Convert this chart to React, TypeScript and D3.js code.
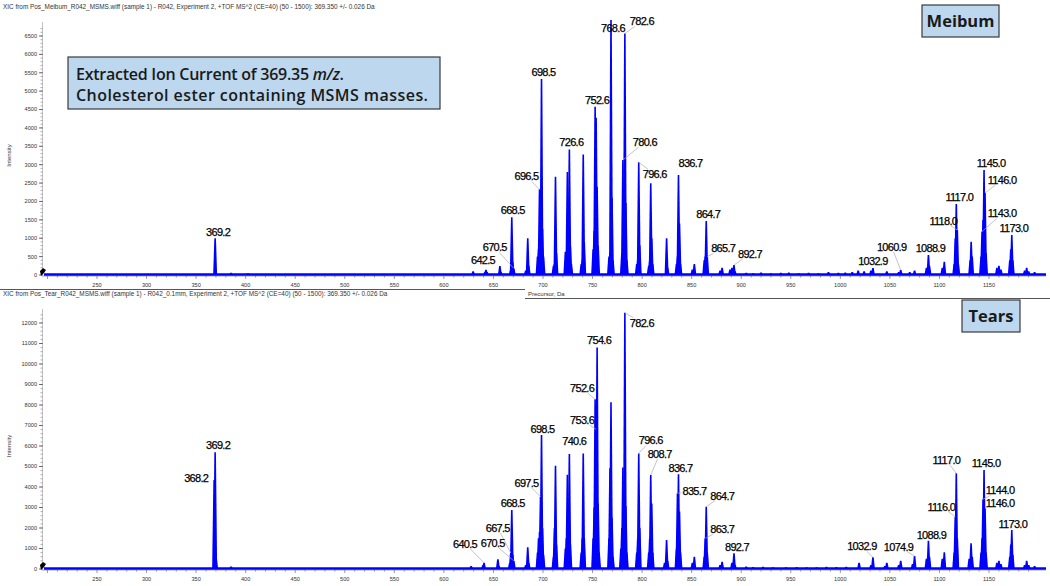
import React, { useRef, useEffect } from 'react';
import * as d3 from 'd3';

type Peak = [number, number];

// x axis (Precursor, Da)
const xTicks = [250, 300, 350, 400, 450, 500, 550, 600, 650, 700, 750, 800, 850, 900, 950, 1000, 1050, 1100, 1150];
const meibumYTicks = [0, 500, 1000, 1500, 2000, 2500, 3000, 3500, 4000, 4500, 5000, 5500, 6000, 6500];
const tearsYTicks = [0, 1000, 2000, 3000, 4000, 5000, 6000, 7000, 8000, 9000, 10000, 11000, 12000];

const meibumTitle = 'XIC from Pos_Meibum_R042_MSMS.wiff (sample 1) - R042, Experiment 2, +TOF MS^2 (CE=40) (50 - 1500): 369.350 +/- 0.026 Da';
const tearsTitle = 'XIC from Pos_Tear_R042_MSMS.wiff (sample 1) - R042_0.1mm, Experiment 2, +TOF MS^2 (CE=40) (50 - 1500): 369.350 +/- 0.026 Da';

// [m/z, intensity]
const meibumPeaks: Peak[] = [
  [369.2, 1000], [385.3, 60], [402.3, 50], [629.5, 100],
  [641.5, 90], [642.5, 140], [643.5, 80], [656.5, 245], [657.5, 80],
  [667.5, 150], [668.5, 1570], [669.5, 350], [670.5, 180], [682.6, 120], [684.6, 1000], [685.6, 250],
  [694.5, 500], [695.5, 700], [696.5, 2330], [697.5, 900], [698.5, 5330], [699.5, 1250], [700.5, 500],
  [710.6, 250], [711.6, 300], [712.6, 2670], [713.6, 600],
  [722.6, 630], [723.6, 350], [724.6, 2800], [725.6, 1200], [726.6, 3415], [727.6, 800], [728.6, 300],
  [738.6, 300], [739.6, 400], [740.6, 3280], [741.6, 900],
  [750.6, 700], [751.6, 1200], [752.6, 4575], [753.6, 4280], [754.6, 2400], [755.6, 800],
  [766.6, 500], [767.6, 600], [768.6, 6935], [769.6, 2100], [770.6, 400],
  [779.6, 600], [780.6, 3125], [781.6, 2000], [782.6, 6570], [783.6, 1960], [784.6, 400],
  [794.6, 300], [795.6, 400], [796.6, 3065], [797.6, 800],
  [806.7, 250], [807.7, 400], [808.7, 2494], [809.7, 1000], [810.7, 300],
  [824.7, 997], [825.7, 200],
  [834.7, 300], [835.7, 500], [836.7, 2720], [837.7, 1400], [838.7, 300],
  [850.7, 150], [852.7, 300],
  [862.7, 400], [863.7, 500], [864.7, 1468], [865.7, 500],
  [878.7, 120], [880.7, 200], [888.7, 150], [890.7, 200], [892.7, 270], [893.7, 100],
  [905, 60], [912, 50], [920, 70], [930, 50], [940, 60], [948, 70], [958, 50], [968, 60], [978, 50],
  [988, 80], [998, 60], [1005, 70], [1012, 80], [1018, 120], [1024, 100],
  [1030.9, 120], [1032.9, 190], [1046.9, 100], [1058.9, 80], [1060.9, 136], [1070, 80], [1074.9, 120],
  [1086.9, 200], [1088.9, 544], [1089.9, 250], [1102.9, 200], [1104.9, 360],
  [1114.9, 300], [1116.0, 1000], [1117.0, 1930], [1118.0, 1224], [1119.0, 300],
  [1131, 400], [1132, 906], [1133, 500],
  [1142, 500], [1143.0, 1180], [1144, 1500], [1145.0, 2855], [1146.0, 2230], [1147, 600],
  [1158, 200], [1160, 250], [1162, 150],
  [1171, 400], [1172, 700], [1173.0, 1088], [1174, 400],
  [1186, 120], [1188, 200], [1190, 100], [1196, 80],
];

const tearsPeaks: Peak[] = [
  [368.2, 4340], [369.2, 5700], [370.2, 500], [385.3, 120],
  [627.5, 146], [639.5, 200], [640.5, 307], [654.5, 470], [655.5, 150],
  [666.5, 300], [667.5, 780], [668.5, 2878], [669.5, 700], [670.5, 400],
  [682.6, 200], [684.6, 1058], [685.6, 300],
  [694.5, 800], [695.5, 1500], [696.5, 1800], [697.5, 3527], [698.5, 6537], [699.5, 2000], [700.5, 700],
  [710.6, 600], [711.6, 2000], [712.6, 5040], [713.6, 1200],
  [722.6, 1000], [723.6, 1500], [724.6, 4600], [725.6, 2000], [726.6, 5610], [727.6, 1200],
  [738.6, 800], [739.6, 1500], [740.6, 5640], [741.6, 1500],
  [750.6, 1500], [751.6, 3000], [752.6, 8276], [753.6, 6813], [754.6, 10800], [755.6, 3200], [756.6, 800],
  [766.6, 1500], [767.6, 4910], [768.6, 8130], [769.6, 2500], [770.6, 600],
  [778.6, 1000], [779.6, 2000], [780.6, 4950], [781.6, 2500], [782.6, 12500], [783.6, 3060], [784.6, 800],
  [794.6, 800], [795.6, 1500], [796.6, 5640], [797.6, 2000],
  [806.7, 800], [807.7, 1500], [808.7, 4585], [809.7, 3200], [810.7, 800],
  [822.7, 300], [824.7, 1415], [825.7, 400],
  [834.7, 1000], [835.7, 3690], [836.7, 4618], [837.7, 2800], [838.7, 800],
  [850.7, 300], [852.7, 600],
  [862.7, 600], [863.7, 1496], [864.7, 3040], [865.7, 800],
  [878.7, 200], [880.7, 350], [890.7, 300], [892.7, 765], [893.7, 200],
  [905, 120], [912, 100], [922, 110], [932, 80], [945, 90], [956, 100], [966, 80], [976, 90], [986, 110],
  [996, 100], [1006, 110],
  [1018.9, 307], [1030.9, 200], [1032.9, 570], [1044.9, 150], [1046.9, 307], [1058.9, 200], [1060.9, 405],
  [1072.9, 250], [1074.9, 634],
  [1086.9, 500], [1088.9, 1382], [1089.9, 600], [1102.9, 500], [1104.9, 815],
  [1114.9, 800], [1116.0, 2553], [1117.0, 4668], [1118.0, 1500],
  [1130, 500], [1131.9, 1253], [1133, 600],
  [1142, 800], [1143, 1500], [1144.0, 3400], [1145.0, 4830], [1146.0, 2960], [1147, 800],
  [1158, 300], [1160, 400], [1162, 250],
  [1171, 600], [1172, 1200], [1173.0, 1900], [1174, 700],
  [1186, 200], [1188, 400], [1190, 200], [1196, 150],
];

// labelled peaks (m/z)
const meibumLabels = [369.2, 642.5, 668.5, 670.5, 696.5, 698.5, 726.6, 752.6, 768.6, 782.6, 780.6, 796.6,
  836.7, 864.7, 865.7, 892.7, 1032.9, 1060.9, 1088.9, 1117.0, 1118.0, 1145.0, 1146.0, 1143.0, 1173.0];
const tearsLabels = [369.2, 368.2, 640.5, 667.5, 670.5, 668.5, 697.5, 698.5, 740.6, 752.6, 753.6, 754.6,
  782.6, 796.6, 808.7, 836.7, 835.7, 864.7, 863.7, 892.7, 1032.9, 1074.9, 1088.9, 1117.0, 1116.0,
  1145.0, 1144.0, 1146.0, 1173.0];

// label placement relative to the peak tip: [dx, dy, leader line]
const meibumLayout: Record<string, [number, number, boolean]> = {
  '369.2': [3, -6, false], '642.5': [-3, -10, false], '668.5': [1, -7, false], '670.5': [-19, -21, true],
  '696.5': [-13, -13, true], '698.5': [2, -7, false], '726.6': [2, -7, false], '752.6': [2, -7, false],
  '768.6': [2, 8, false], '782.6': [17, -12, true], '780.6': [22, -18, true], '796.6': [16, 12, true],
  '836.7': [12, -12, false], '864.7': [2, -7, false], '865.7': [16, -8, true], '892.7': [16, -11, true],
  '1032.9': [0, -7, false], '1060.9': [-9, -23, true], '1088.9': [2, -7, false], '1117.0': [3, -7, false],
  '1118.0': [-14, -9, true], '1145.0': [7, -7, false], '1146.0': [17, -13, true], '1143.0': [20, -18, true],
  '1173.0': [2, -7, false],
};
const tearsLayout: Record<string, [number, number, boolean]> = {
  '369.2': [3, -7, false], '368.2': [-18, -2, false], '640.5': [-19, -19, true], '667.5': [-13, -25, true],
  '670.5': [-21, -18, true], '668.5': [1, -7, false], '697.5': [-14, -14, true], '698.5': [1, -6, false],
  '740.6': [-9, -12, false], '752.6': [-13, -11, true], '753.6': [-14, -9, true], '754.6': [2, -7, false],
  '782.6': [17, 10, true], '796.6': [12, -13, true], '808.7': [9, -21, true], '836.7': [2, -6, false],
  '835.7': [17, -2, true], '864.7': [16, -11, true], '863.7': [17, -9, true], '892.7': [3, -6, false],
  '1032.9': [-11, -11, true], '1074.9': [-16, -9, true], '1088.9': [3, -6, false], '1117.0': [-10, -13, true],
  '1116.0': [-14, -10, true], '1145.0': [2, -7, false], '1144.0': [17, -9, true], '1146.0': [15, -5, true],
  '1173.0': [1, -6, false],
};

interface PanelSpec {
  peaks: Peak[];
  labels: number[];
  layout: Record<string, [number, number, boolean]>;
  yTicks: number[];
  yMinor: number;
  yMax: number;
  yTop: number;
  yBase: number;
  title: string;
  titleY: number;
  xTitle: boolean;
  tag: string;
  tagBox: [number, number, number, number];
}

const App: React.FC = () => {
  const svgRef = useRef<SVGSVGElement | null>(null);

  useEffect(() => {
    const width = 1050;
    const height = 586;
    const svg = d3.select(svgRef.current);
    svg.selectAll('*').remove();
    svg.attr('width', width).attr('height', height);

    svg.append('rect').attr('width', width).attr('height', height).attr('fill', '#fff');

    const axisX = 42;
    const x = d3.scaleLinear().domain([250, 1150]).range([97, 989]);
    const xMin = x.invert(axisX + 2);
    const xMax = x.invert(1046);
    const blue = '#0000ff';
    const fontSmall = 'Liberation Sans, Arial, sans-serif';
    const fontBox = 'Open Sans, Noto Sans, sans-serif';

    const panels: PanelSpec[] = [
      {
        peaks: meibumPeaks, labels: meibumLabels, layout: meibumLayout, yTicks: meibumYTicks, yMinor: 100,
        yMax: 6500, yTop: 36, yBase: 275, title: meibumTitle, titleY: 9, xTitle: true,
        tag: 'Meibum', tagBox: [922, 5, 77, 32],
      },
      {
        peaks: tearsPeaks, labels: tearsLabels, layout: tearsLayout, yTicks: tearsYTicks, yMinor: 200,
        yMax: 12000, yTop: 323, yBase: 569, title: tearsTitle, titleY: 296, xTitle: false,
        tag: 'Tears', tagBox: [962, 300, 58, 32],
      },
    ];

    // separator between the two traces (the screenshots overlap with a step)
    svg.append('path')
      .attr('d', 'M0,289.5 H525 M525,298.5 H1050')
      .style('stroke', '#555')
      .style('stroke-width', 1.2)
      .style('fill', 'none');

    panels.forEach(p => {
      const y = d3.scaleLinear().domain([0, p.yMax]).range([p.yBase, p.yTop]);
      const g = svg.append('g');

      // title
      g.append('text')
        .attr('x', 3).attr('y', p.titleY)
        .style('font-family', fontSmall)
        .style('font-size', '6.4px')
        .style('fill', '#333')
        .text(p.title);

      // y axis
      g.append('line')
        .attr('x1', axisX + 0.5).attr('x2', axisX + 0.5)
        .attr('y1', p.yTop - 14).attr('y2', p.yBase)
        .style('stroke', '#999')
        .style('stroke-width', 0.6);
      d3.range(0, p.yMax + p.yMinor * 3, p.yMinor).forEach(v => {
        g.append('line')
          .attr('x1', axisX - 1.5).attr('x2', axisX + 0.5)
          .attr('y1', y(v)).attr('y2', y(v))
          .style('stroke', '#777')
          .style('stroke-width', 0.6);
      });
      p.yTicks.forEach(v => {
        g.append('line')
          .attr('x1', axisX - 3).attr('x2', axisX + 0.5)
          .attr('y1', y(v)).attr('y2', y(v))
          .style('stroke', '#333')
          .style('stroke-width', 0.7);
        g.append('text')
          .attr('x', axisX - 5).attr('y', y(v))
          .attr('dy', '0.35em')
          .attr('text-anchor', 'end')
          .style('font-family', fontSmall)
          .style('font-size', '5.6px')
          .style('fill', '#333')
          .text(v);
      });
      g.append('text')
        .attr('transform', `translate(11,${(p.yTop + p.yBase) / 2}) rotate(-90)`)
        .attr('text-anchor', 'middle')
        .style('font-family', fontSmall)
        .style('font-size', '6px')
        .style('fill', '#333')
        .text('Intensity');

      // x axis
      g.append('line')
        .attr('x1', axisX).attr('x2', 1046)
        .attr('y1', p.yBase + 1).attr('y2', p.yBase + 1)
        .style('stroke', '#666')
        .style('stroke-width', 0.6);
      d3.range(200, 1200, 10).forEach(v => {
        if (x(v) < axisX + 1) return;
        g.append('line')
          .attr('x1', x(v)).attr('x2', x(v))
          .attr('y1', p.yBase + 1).attr('y2', p.yBase + (v % 50 === 0 ? 4 : 2.5))
          .style('stroke', '#555')
          .style('stroke-width', 0.6);
      });
      xTicks.forEach(v => {
        g.append('text')
          .attr('x', x(v)).attr('y', p.yBase + 12)
          .attr('text-anchor', 'middle')
          .style('font-family', fontSmall)
          .style('font-size', '5.6px')
          .style('fill', '#333')
          .text(v);
      });
      if (p.xTitle) {
        g.append('text')
          .attr('x', 528).attr('y', p.yBase + 21)
          .style('font-family', fontSmall)
          .style('font-size', '6px')
          .style('fill', '#333')
          .text('Precursor, Da');
      }

      // baseline trace
      g.append('line')
        .attr('x1', x(xMin)).attr('x2', x(xMax))
        .attr('y1', p.yBase - 0.5).attr('y2', p.yBase - 0.5)
        .style('stroke', blue)
        .style('stroke-width', 2.4);

      // peaks
      g.selectAll('.peak')
        .data(p.peaks)
        .enter()
        .append('path')
        .attr('class', 'peak')
        .attr('d', d => {
          const px = x(d[0]);
          const top = y(d[1]);
          const b = p.yBase;
          return `M${px - 2},${b} L${px - 0.8},${top} L${px + 0.8},${top} L${px + 2},${b} Z`;
        })
        .style('fill', blue);

      // origin marker
      g.append('path')
        .attr('d', `M${axisX - 1},${p.yBase + 1} L${axisX - 2},${p.yBase - 4} L${axisX + 1},${p.yBase - 7} L${axisX + 4},${p.yBase - 5} L${axisX + 2},${p.yBase - 2} Z`)
        .style('fill', '#000');

      // peak labels
      p.labels.forEach(mz => {
        const peak = p.peaks.find(d => Math.abs(d[0] - mz) < 0.05);
        if (!peak) return;
        const key = mz.toFixed(1);
        const [dx, dy, leader] = p.layout[key];
        const tx = x(peak[0]);
        const ty = y(peak[1]);
        const lx = tx + dx;
        const ly = ty + dy;
        if (leader) {
          const hw = 13;
          const hh = 5;
          const vx = tx - lx;
          const vy = ty - ly;
          const t = Math.min(vx !== 0 ? hw / Math.abs(vx) : Infinity, vy !== 0 ? hh / Math.abs(vy) : Infinity);
          g.append('line')
            .attr('x1', lx + vx * t).attr('y1', ly + vy * t)
            .attr('x2', tx).attr('y2', ty)
            .style('stroke', '#aaa')
            .style('stroke-width', 0.7);
        }
        g.append('text')
          .attr('x', lx).attr('y', ly)
          .attr('dy', '0.35em')
          .attr('text-anchor', 'middle')
          .style('font-family', fontSmall)
          .style('font-size', '11px')
          .style('letter-spacing', '-0.7px')
          .style('fill', '#000')
          .style('stroke', '#000')
          .style('stroke-width', 0.25)
          .text(key);
      });

      // sample tag
      const [bx, by, bw, bh] = p.tagBox;
      g.append('rect')
        .attr('x', bx).attr('y', by).attr('width', bw).attr('height', bh)
        .style('fill', '#bdd7ee')
        .style('stroke', '#3a3a3a')
        .style('stroke-width', 1.2);
      g.append('text')
        .attr('x', bx + bw / 2).attr('y', by + bh / 2)
        .attr('dy', '0.36em')
        .attr('text-anchor', 'middle')
        .style('font-family', fontBox)
        .style('font-weight', 700)
        .style('font-size', '16.5px')
        .style('fill', '#1a1a1a')
        .text(p.tag);
    });

    // annotation box
    const box = svg.append('g');
    box.append('rect')
      .attr('x', 68).attr('y', 57).attr('width', 372).attr('height', 52)
      .style('fill', '#bdd7ee')
      .style('stroke', '#3a3a3a')
      .style('stroke-width', 1.2);
    const line1 = box.append('text')
      .attr('x', 76).attr('y', 80)
      .attr('textLength', 268)
      .attr('lengthAdjust', 'spacing')
      .style('font-family', fontBox)
      .style('font-weight', 600)
      .style('font-size', '16px')
      .style('fill', '#1a1a1a');
    line1.append('tspan').text('Extracted Ion Current of 369.35 ');
    line1.append('tspan').style('font-style', 'italic').text('m/z');
    line1.append('tspan').text('.');
    box.append('text')
      .attr('x', 76).attr('y', 101)
      .attr('textLength', 352)
      .attr('lengthAdjust', 'spacing')
      .style('font-family', fontBox)
      .style('font-weight', 600)
      .style('font-size', '16px')
      .style('fill', '#1a1a1a')
      .text('Cholesterol ester containing MSMS masses.');
  }, []);

  return (
    <div style={{ position: 'absolute', left: 0, top: 0 }}>
      <svg ref={svgRef} style={{ display: 'block' }}></svg>
    </div>
  );
};

export default App;
